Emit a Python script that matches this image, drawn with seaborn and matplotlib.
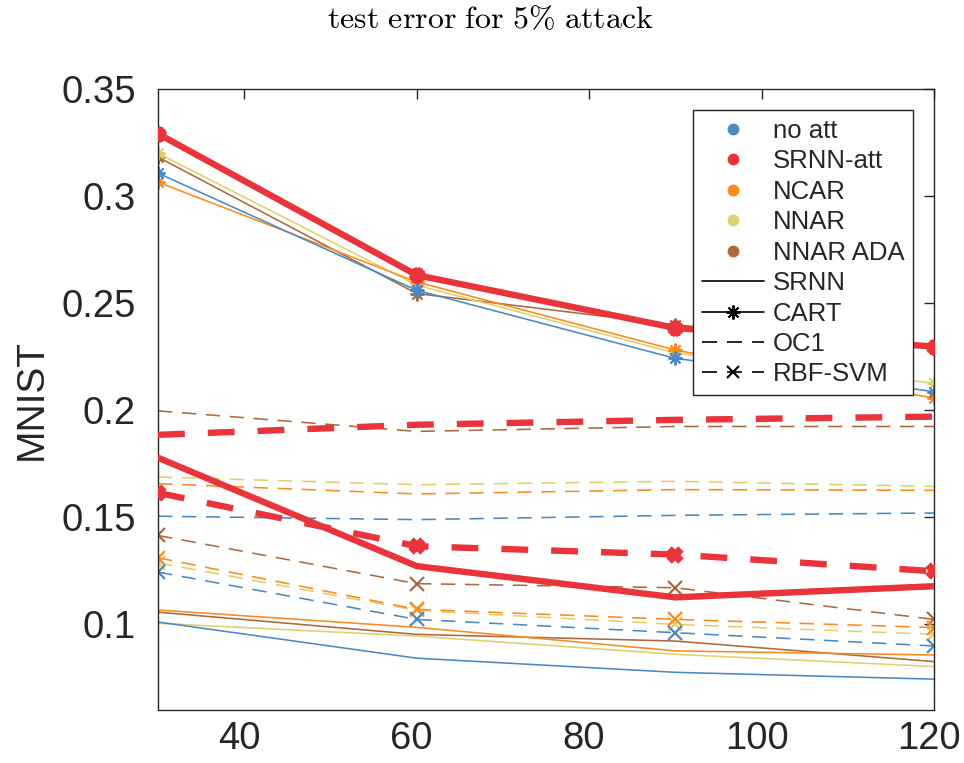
import numpy as np
import pandas as pd
import matplotlib
matplotlib.use("Agg")
import matplotlib.pyplot as plt
import matplotlib.transforms as mtransforms
import seaborn as sns
from matplotlib.lines import Line2D

# ---------------- data ----------------
x_vals = [30, 60, 90, 120]
datasets = ["no att", "SRNN-att", "NCAR", "NNAR", "NNAR ADA"]
methods = ["SRNN", "CART", "OC1", "RBF-SVM"]

# SRNN (solid, no marker)
srnn_no_att = [0.1011, 0.0842, 0.0776, 0.0744]
srnn_srnn_att = [0.1778, 0.1272, 0.1126, 0.1178]
srnn_ncar = [0.1067, 0.0986, 0.0876, 0.0857]
srnn_nnar = [0.1005, 0.0945, 0.0860, 0.0803]
srnn_nnar_ada = [0.1057, 0.0953, 0.0922, 0.0826]

# CART (solid, asterisk)
cart_no_att = [0.3107, 0.2560, 0.2242, 0.2087]
cart_srnn_att = [0.3291, 0.2631, 0.2384, 0.2297]
cart_ncar = [0.3065, 0.2599, 0.2281, 0.2056]
cart_nnar = [0.3200, 0.2584, 0.2267, 0.2126]
cart_nnar_ada = [0.3182, 0.2545, 0.2398, 0.2297]

# OC1 (dashed, no marker)
oc1_no_att = [0.1505, 0.1489, 0.1509, 0.1520]
oc1_srnn_att = [0.1885, 0.1932, 0.1955, 0.1970]
oc1_ncar = [0.1657, 0.1609, 0.1629, 0.1626]
oc1_nnar = [0.1688, 0.1652, 0.1668, 0.1644]
oc1_nnar_ada = [0.1997, 0.1901, 0.1924, 0.1924]

# RBF-SVM (dashed, x marker)
svm_no_att = [0.1244, 0.1023, 0.0961, 0.0899]
svm_srnn_att = [0.1614, 0.1365, 0.1326, 0.1248]
svm_ncar = [0.1311, 0.1070, 0.1023, 0.0985]
svm_nnar = [0.1287, 0.1065, 0.1000, 0.0953]
svm_nnar_ada = [0.1415, 0.1190, 0.1171, 0.1023]

y_ticks = [0.1, 0.15, 0.2, 0.25, 0.3, 0.35]
y_tick_labels = ["0.1", "0.15", "0.2", "0.25", "0.3", "0.35"]
x_ticks = [40, 60, 80, 100, 120]
title_text = r"$\mathrm{test\ error\ for\ 5\%\ attack}$"
ylabel_text = "MNIST"

series = {
    "SRNN": [srnn_no_att, srnn_srnn_att, srnn_ncar, srnn_nnar, srnn_nnar_ada],
    "CART": [cart_no_att, cart_srnn_att, cart_ncar, cart_nnar, cart_nnar_ada],
    "OC1": [oc1_no_att, oc1_srnn_att, oc1_ncar, oc1_nnar, oc1_nnar_ada],
    "RBF-SVM": [svm_no_att, svm_srnn_att, svm_ncar, svm_nnar, svm_nnar_ada],
}

rows = []
for m in methods:
    for d, vals in zip(datasets, series[m]):
        for xv, yv in zip(x_vals, vals):
            rows.append({"n": xv, "err": yv, "data": d, "method": m})
df = pd.DataFrame(rows)

# ---------------- style ----------------
sns.set_theme(style="white")
plt.rcParams["font.family"] = ["Liberation Sans", "DejaVu Sans"]
plt.rcParams["mathtext.fontset"] = "cm"

colors = {
    "no att": "#4a89c4",
    "SRNN-att": "#e8343a",
    "NCAR": "#fe8a1c",
    "NNAR": "#dfd06e",
    "NNAR ADA": "#ac693e",
}

W, H = 964, 763
fig = plt.figure(figsize=(W / 100, H / 100), dpi=100)
ax = fig.add_axes([158 / W, 1 - 710 / H, (934 - 158) / W, (710 - 89) / H])

order = ["NNAR ADA", "NNAR", "NCAR", "no att", "SRNN-att"]
for m in methods:
    for d in order:
        sub = df[(df["method"] == m) & (df["data"] == d)]
        red = d == "SRNN-att"
        lw = 4.6 if red else 1.15
        if m in ("OC1", "RBF-SVM"):
            ls = (0, (4.2, 3.6)) if red else (0, (9, 6))
        else:
            ls = "-"
        kw = dict(linewidth=lw, linestyle=ls, color=colors[d], zorder=3 if red else 2)
        if m == "CART":
            kw.update(marker=(8, 2, 0), markersize=10,
                      markeredgewidth=1.4 if not red else 7.0,
                      markeredgecolor=colors[d])
        elif m == "RBF-SVM":
            kw.update(marker="x", markersize=10 if not red else 8,
                      markeredgewidth=1.6 if not red else 5.5,
                      markeredgecolor=colors[d])
        sns.lineplot(data=sub, x="n", y="err", ax=ax, errorbar=None,
                     legend=False, **kw)

ax.set_xlim(30, 120)
ax.set_ylim(0.06, 0.35)
ax.set_xticks(x_ticks)
ax.set_xticklabels([str(t) for t in x_ticks])
ax.set_yticks(y_ticks)
ax.set_yticklabels(y_tick_labels)
ax.set_xlabel("")
ax.set_ylabel(ylabel_text, fontsize=28, color="#262626", labelpad=8)
ax.tick_params(axis="both", which="both", direction="in", length=7,
               width=1.0, colors="#262626", labelsize=27.5,
               top=True, right=True)
ax.tick_params(axis="y", pad=16)
ax.tick_params(axis="x", pad=8)
for s in ax.spines.values():
    s.set_visible(True)
    s.set_color("#262626")
    s.set_linewidth(1.0)

# MATLAB-like slight left offset of x tick labels
shift = mtransforms.ScaledTranslation(-5 / 100, 0, fig.dpi_scale_trans)
for lab in ax.get_xticklabels():
    lab.set_transform(lab.get_transform() + shift)

fig.text(490 / W, 1 - 20 / H, title_text,
         ha="center", va="center", fontsize=23, color="#000000")

handles = []
for d in datasets:
    handles.append(Line2D([], [], linestyle="none", marker="o", markersize=7.5,
                          color=colors[d]))
handles.append(Line2D([], [], color="black", linewidth=1.2, linestyle="-"))
handles.append(Line2D([], [], color="black", linewidth=1.2, linestyle="-",
                      marker=(8, 2, 0), markersize=10, markeredgewidth=1.4))
handles.append(Line2D([], [], color="black", linewidth=1.2, linestyle=(0, (9, 6))))
handles.append(Line2D([], [], color="black", linewidth=1.2, linestyle=(0, (9, 6)),
                      marker="x", markersize=9, markeredgewidth=1.5))
labels = datasets + methods
leg = fig.legend(handles, labels, loc="upper left",
                 bbox_to_anchor=(693 / W, 1 - 110 / H), fontsize=18.5,
                 frameon=True, fancybox=False, edgecolor="#222222",
                 framealpha=1, handlelength=2.4, handletextpad=0.35,
                 labelspacing=0.25, borderpad=0.35, borderaxespad=0)
leg.get_frame().set_linewidth(1.0)

fig.savefig("out.png", dpi=100)
